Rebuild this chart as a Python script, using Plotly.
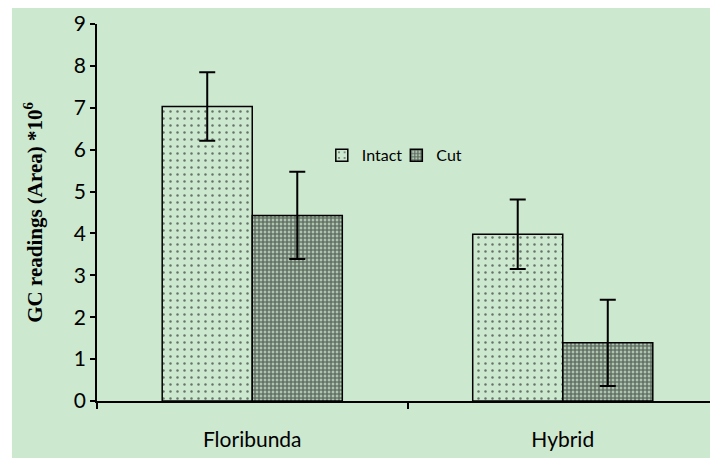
import plotly.graph_objects as go

# données
categories = ["Floribunda", "Hybrid"]
intact = [7.03, 3.98]
intact_err = [0.82, 0.83]
cut = [4.43, 1.39]
cut_err = [1.04, 1.03]

green = "#CCE8CF"

fig = go.Figure()

fig.add_trace(go.Bar(
    name="Intact", x=categories, y=intact, legend="legend", showlegend=True,
    error_y=dict(type="data", array=intact_err, color="black", thickness=2, width=8),
    marker=dict(color=green, line=dict(color="black", width=1.5),
                pattern=dict(shape=".", size=7, solidity=0.1, fgcolor="black", bgcolor=green)),
))
fig.add_trace(go.Bar(
    name="Cut", x=categories, y=cut, legend="legend2", showlegend=True,
    error_y=dict(type="data", array=cut_err, color="black", thickness=2, width=8),
    marker=dict(color=green, line=dict(color="black", width=1.5),
                pattern=dict(shape=".", size=4, solidity=0.75, fgcolor="black", bgcolor=green)),
))

# la page a déjà une marge blanche de 8 px ; on complète la bande de gauche
fig.add_shape(type="rect", xref="paper", yref="paper",
              x0=-0.2, x1=-0.137, y0=-0.3, y1=1.3,
              fillcolor="white", line_width=0, layer="below")

leg = dict(orientation="h", y=0.697, xanchor="left", yanchor="top",
           bgcolor="rgba(0,0,0,0)", font=dict(size=16), itemwidth=30)

fig.update_layout(
    width=710, height=450,
    margin=dict(l=89, r=0, t=16, b=57),
    paper_bgcolor=green,
    plot_bgcolor="rgba(0,0,0,0)",
    showlegend=True,
    barmode="group",
    bargap=0.42,
    bargroupgap=0,
    font=dict(family="Lato", size=21, color="black"),
    legend=dict(leg, x=0.362),
    legend2=dict(leg, x=0.482),
)
fig.update_yaxes(
    range=[0, 9], dtick=1, showgrid=False, zeroline=False, automargin=False,
    showline=True, linecolor="black", linewidth=1.5,
    ticks="outside", ticklen=5, tickcolor="black", tickwidth=1.5,
    title=dict(text="<b>GC readings (Area) *10<sup>6</sup></b>",
               font=dict(family="Liberation Serif", size=21, color="black"),
               standoff=26),
)
fig.update_xaxes(
    showline=True, linecolor="black", linewidth=1.5, automargin=False,
    ticks="outside", ticklen=6, tickcolor="black", tickwidth=1.5,
    tickson="boundaries", ticklabelstandoff=19,
)

fig.write_html("out.html")
